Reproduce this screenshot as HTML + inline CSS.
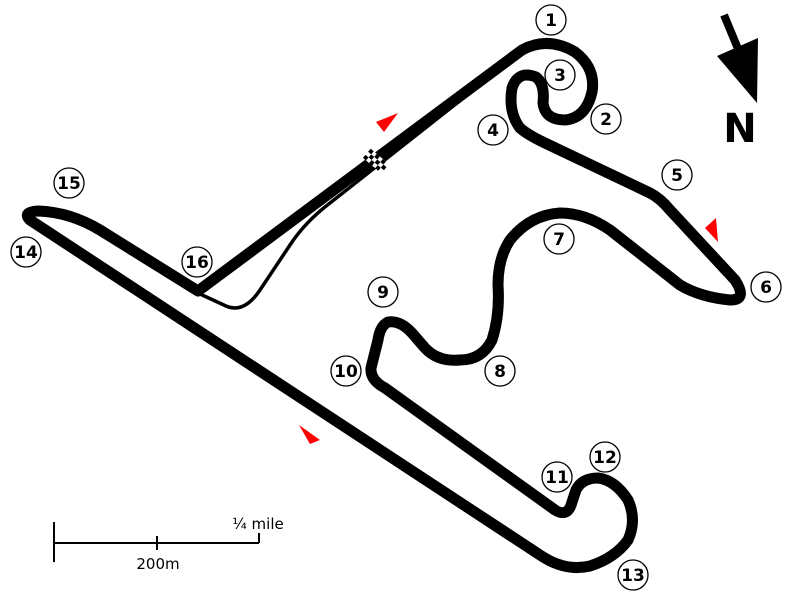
<!DOCTYPE html>
<html><head><style>
body{margin:0;background:#fff;width:800px;height:600px;overflow:hidden}
svg{display:block}
text{font-family:"DejaVu Sans","Liberation Sans",sans-serif}
.n{font-weight:bold;font-size:17px;text-anchor:middle}
</style></head><body>
<svg width="800" height="600" viewBox="0 0 800 600">
<rect width="800" height="600" fill="#fff"/>
<!-- pit lane -->
<path d="M485,81 L330,203 Q305,222 290,245 L260,290 Q244,314 226,306 L200,294" fill="none" stroke="#000" stroke-width="3.5" stroke-linejoin="round"/>
<!-- main track -->
<path d="M198,291 L522,50 Q548,36 575,52 Q596,68 592,92 Q586,118 565,120 Q545,120 543,103 Q545,84 536,77 Q518,70 512,88 Q508,112 520,128 Q528,135 545,143 L650,193 Q660,198 670,210 L735,280 Q748,300 730,300 Q700,297 680,285 L610,230 Q585,213 560,213 Q530,215 510,240 Q498,258 498,285 Q500,315 492,340 Q482,360 460,360 Q438,362 425,348 L412,333 Q400,320 388,322 Q380,326 378,340 L371,368 Q370,380 385,388 L555,510 Q568,518 572,502 L576,490 Q582,478 598,478 Q615,480 628,500 Q637,520 628,540 Q615,558 590,566 Q565,572 540,555 L30,220 Q22,212 38,211 Q70,212 100,230 L198,291 Z" fill="none" stroke="#000" stroke-width="11" stroke-linejoin="round"/>
<!-- checkered flag -->
<g transform="translate(376,161) rotate(40)">
<rect x="-12" y="-6" width="24" height="12" fill="#fff"/>
<g fill="#000">
<rect x="-12" y="-6" width="4" height="4"/><rect x="-4" y="-6" width="4" height="4"/><rect x="4" y="-6" width="4" height="4"/>
<rect x="-8" y="-2" width="4" height="4"/><rect x="0" y="-2" width="4" height="4"/><rect x="8" y="-2" width="4" height="4"/>
<rect x="-12" y="2" width="4" height="4"/><rect x="-4" y="2" width="4" height="4"/><rect x="4" y="2" width="4" height="4"/>
</g></g>
<!-- red markers -->
<polygon points="376,122 398,113 384,132" fill="#f00"/>
<polygon points="705,228 716,218 718,242" fill="#f00"/>
<polygon points="299,425 320,440 310,444" fill="#f00"/>
<!-- turn labels -->
<g fill="#fff" stroke="#000" stroke-width="1.3">
<circle cx="551" cy="20" r="15"/><circle cx="606" cy="119" r="15"/><circle cx="560" cy="75" r="15"/>
<circle cx="493" cy="130" r="15"/><circle cx="677" cy="175" r="15"/><circle cx="766" cy="287" r="15"/>
<circle cx="559" cy="239" r="15"/><circle cx="500" cy="371" r="15"/><circle cx="383" cy="292" r="15"/>
<circle cx="346" cy="371" r="15"/><circle cx="557" cy="477" r="15"/><circle cx="605" cy="457" r="15"/>
<circle cx="633" cy="575" r="15"/><circle cx="26" cy="252" r="15"/><circle cx="69" cy="183" r="15"/>
<circle cx="197" cy="262" r="15"/>
</g>
<g class="n">
<text x="551" y="26" class="n">1</text><text x="606" y="125" class="n">2</text><text x="560" y="81" class="n">3</text>
<text x="493" y="136" class="n">4</text><text x="677" y="181" class="n">5</text><text x="766" y="293" class="n">6</text>
<text x="559" y="245" class="n">7</text><text x="500" y="377" class="n">8</text><text x="383" y="298" class="n">9</text>
<text x="346" y="377" class="n">10</text><text x="557" y="483" class="n">11</text><text x="605" y="463" class="n">12</text>
<text x="633" y="581" class="n">13</text><text x="26" y="258" class="n">14</text><text x="69" y="189" class="n">15</text>
<text x="197" y="268" class="n">16</text>
</g>
<!-- north arrow -->
<line x1="724" y1="15" x2="741" y2="56" stroke="#000" stroke-width="8"/>
<polygon points="717,56 758,38 757,103" fill="#000"/>
<text x="740" y="142" font-size="40" font-weight="bold" text-anchor="middle">N</text>
<!-- scale -->
<g stroke="#000" stroke-width="2">
<line x1="54" y1="543" x2="259" y2="543"/>
<line x1="54" y1="522" x2="54" y2="562"/>
<line x1="157" y1="536" x2="157" y2="550"/>
<line x1="259" y1="533" x2="259" y2="543"/>
</g>
<text x="258" y="529" font-size="15" text-anchor="middle">¼ mile</text>
<text x="158" y="569" font-size="15" text-anchor="middle">200m</text>
</svg>
</body></html>
